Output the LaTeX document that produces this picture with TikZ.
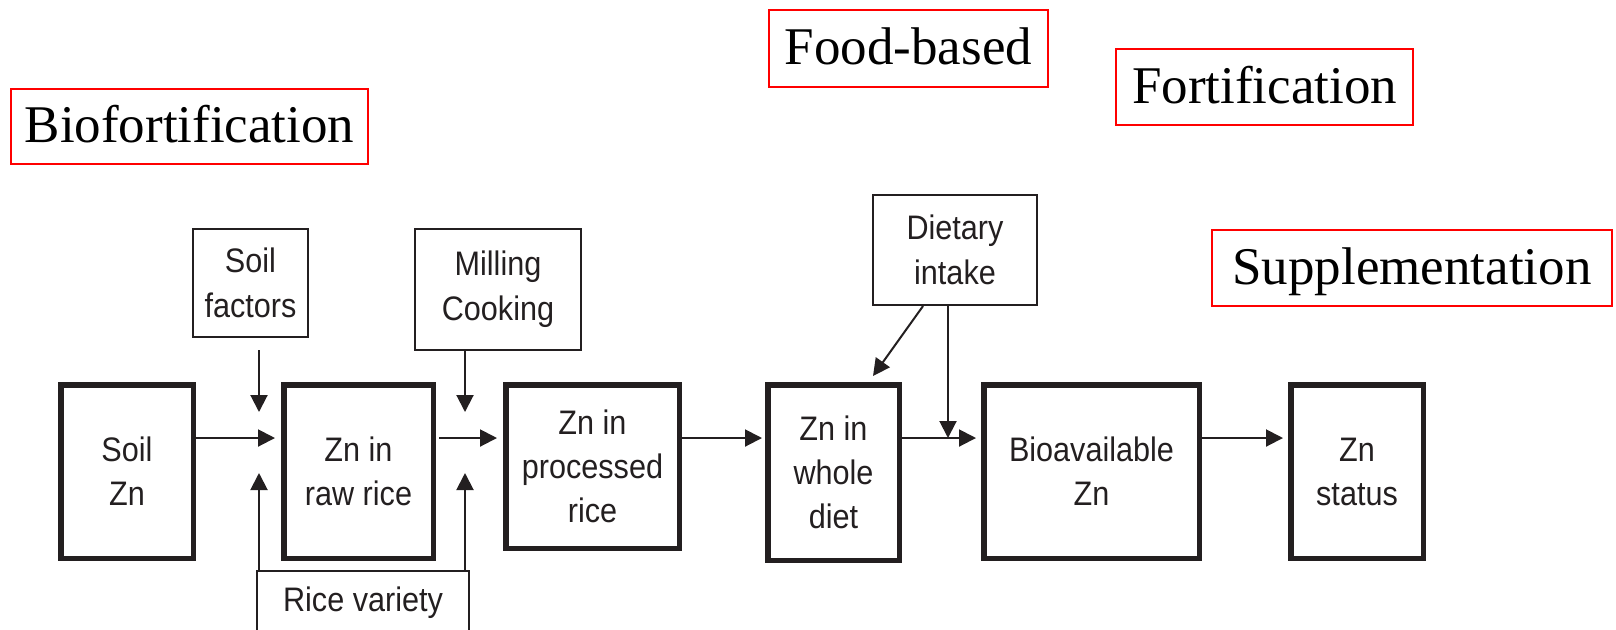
\documentclass[tikz,border=0pt]{standalone}
\usepackage{fontspec}
\setmainfont{Liberation Serif}
\newfontfamily\boxfont[FakeStretch=0.9]{Liberation Sans}
\usetikzlibrary{arrows.meta}
\definecolor{inkgray}{HTML}{231F20}
\definecolor{markred}{HTML}{FF0000}
\def\px{0.5pt}
\tikzset{
  stage/.style={draw=inkgray, line width=2.75pt, inner sep=0pt, align=center,
    text=inkgray, font={\boxfont\fontsize{17pt}{22pt}\selectfont}},
  factor/.style={draw=inkgray, line width=0.8pt, inner sep=0pt, align=center,
    text=inkgray, font={\boxfont\fontsize{17pt}{22.5pt}\selectfont}},
  approach/.style={draw=markred, line width=1pt, inner sep=0pt,
    text height=16.4pt, text depth=0pt, font={\fontsize{26.5pt}{30pt}\selectfont}},
  flow/.style={draw=inkgray, line width=1pt, -{Triangle[length=8.5pt,width=8.5pt]}}
}
\begin{document}
\begin{tikzpicture}[x=\px, y=-\px]
  \clip (0,0) rectangle (1616,629);

  \node[approach, minimum width=357*\px, minimum height=75*\px] (biofort) at (189.5,126.5) {Biofortification};
  \node[approach, minimum width=279*\px, minimum height=77*\px] (foodbased) at (908.5,48.5) {Food-based};
  \node[approach, minimum width=297*\px, minimum height=76*\px] (fortif) at (1264.5,87) {Fortification};
  \node[approach, minimum width=400*\px, minimum height=76*\px] (suppl) at (1412,268) {Supplementation};

  \node[stage, minimum width=132.5*\px, minimum height=173.5*\px] (soil) at (127,471.5) {Soil\\Zn};
  \node[stage, minimum width=149.5*\px, minimum height=173.5*\px] (raw) at (358.5,471.5) {Zn in\\raw rice};
  \node[stage, minimum width=173.5*\px, minimum height=163.5*\px] (proc) at (592.5,466.5) {Zn in\\processed\\rice};
  \node[stage, minimum width=131.5*\px, minimum height=175.5*\px] (diet) at (833.5,472.5) {Zn in\\whole\\diet};
  \node[stage, minimum width=215.5*\px, minimum height=173.5*\px] (bioav) at (1091.5,471.5) {Bioavailable\\Zn};
  \node[stage, minimum width=132.5*\px, minimum height=173.5*\px] (status) at (1357,471.5) {Zn\\status};

  \node[factor, minimum width=115.5*\px, minimum height=108.5*\px] (soilfac) at (250.5,283) {Soil\\factors};
  \node[factor, minimum width=166.5*\px, minimum height=121.5*\px] (milling) at (498,289.5) {Milling\\Cooking};
  \node[factor, minimum width=164.5*\px, minimum height=110.5*\px] (intake) at (955,250) {Dietary\\intake};
  \node[factor, minimum width=212.5*\px, minimum height=64*\px] (variety) at (363,603) {Rice variety};

  \coordinate (j1) at (259,438);
  \coordinate (j2) at (465,438);
  \coordinate (j3) at (948,438);

  \draw[flow, shorten <=6pt, shorten >=13pt] (soilfac.south -| j1) -- (j1);
  \draw[flow, shorten >=17.5pt] (variety.north -| j1) -- (j1);
  \draw[flow, shorten >=3pt] (soil.east |- j1) -- (raw.west |- j1);

  \draw[flow, shorten >=13pt] (milling.south -| j2) -- (j2);
  \draw[flow, shorten >=17.5pt] (variety.north -| j2) -- (j2);
  \draw[flow, shorten <=1.5pt, shorten >=3pt] (raw.east |- j2) -- (proc.west |- j2);

  \draw[flow, shorten >=1.5pt] (proc.east |- j2) -- (diet.west |- j2);

  \draw[flow] ([xshift=-16pt]intake.south) -- ([xshift=19.75pt,yshift=3pt]diet.north);
  \draw[flow] (intake.south -| j3) -- (j3);
  \draw[flow, shorten >=2.5pt] (diet.east |- j3) -- (bioav.west |- j3);

  \draw[flow, shorten >=2.5pt] (bioav.east |- j2) -- (status.west |- j2);
\end{tikzpicture}
\end{document}
